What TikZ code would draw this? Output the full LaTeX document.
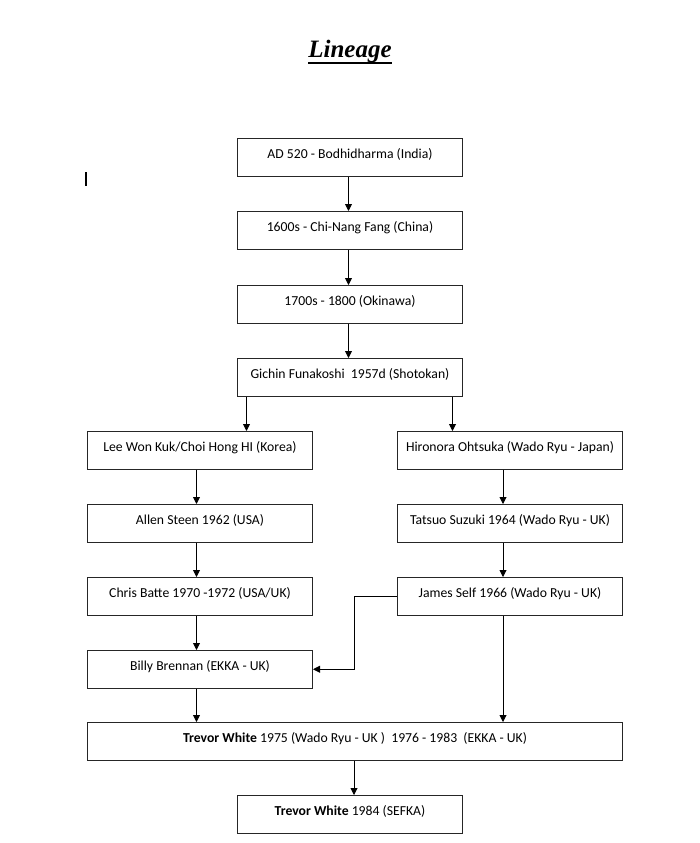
\documentclass[tikz,border=0pt]{standalone}
\usepackage{fontspec}
\setmainfont{Carlito}
\newfontfamily\titlefont{Liberation Serif}
\usetikzlibrary{arrows.meta}
\tikzset{
  box/.style={draw=black!85, line width=1pt, inner sep=0pt, anchor=north west,
    minimum height=37.5pt, text height=20pt, text depth=17.5pt,
    font=\fontsize{13.7}{16}\selectfont},
  narrow/.style={box, minimum width=225pt},
  wide/.style={box, minimum width=535pt},
  arr/.style={draw=black, line width=0.9pt, -{Triangle[width=7pt,length=7pt]}},
}
\begin{document}
\begin{tikzpicture}[x=1pt,y=-1pt]
\useasboundingbox (0,0) rectangle (700,843);
% title
\node[inner sep=0pt, anchor=base, font=\titlefont\bfseries\itshape\fontsize{25}{28}\selectfont] (title) at (350,58) {Lineage};
\draw[line width=1.8pt] ([yshift=-5pt]title.base west) -- ([yshift=-5pt]title.base east);
% cursor mark
\coordinate (c1) at (86,172);
\coordinate (c2) at (86,186);
\draw[line width=1.6pt] (c1) -- (c2);
% boxes
\node[narrow] (b1) at (237,138) {AD 520 - Bodhidharma (India)};
\node[narrow] (b2) at (237,211) {1600s - Chi-Nang Fang (China)};
\node[narrow] (b3) at (237,285) {1700s - 1800 (Okinawa)};
\node[narrow] (b4) at (237,358) {Gichin Funakoshi\ \ 1957d (Shotokan)};
\node[narrow] (b5) at (87,431) {Lee Won Kuk/Choi Hong HI (Korea)};
\node[narrow] (b6) at (397,431) {Hironora Ohtsuka (Wado Ryu - Japan)};
\node[narrow] (b7) at (87,504) {Allen Steen 1962 (USA)};
\node[narrow] (b8) at (397,504) {Tatsuo Suzuki 1964 (Wado Ryu - UK)};
\node[narrow] (b9) at (87,577) {Chris Batte 1970 -1972 (USA/UK)};
\node[narrow] (b10) at (397,577) {James Self 1966 (Wado Ryu - UK)};
\node[narrow] (b11) at (87,650) {Billy Brennan (EKKA - UK)};
\node[wide] (b12) at (87,722) {\textbf{Trevor White} 1975 (Wado Ryu - UK )\ \ 1976 - 1983\ \ (EKKA - UK)};
\node[narrow] (b13) at (237,795) {\textbf{Trevor White} 1984 (SEFKA)};
% arrows
\draw[arr] ([xshift=-1.5pt]b1.south) -- ([xshift=-1.5pt]b2.north);
\draw[arr] ([xshift=-1.5pt]b2.south) -- ([xshift=-1.5pt]b3.north);
\draw[arr] ([xshift=-1.5pt]b3.south) -- ([xshift=-1.5pt]b4.north);
\draw[arr] ([xshift=-103.5pt]b4.south) -- ([xshift=-103.5pt]b4.south |- b5.north);
\draw[arr] ([xshift=102.5pt]b4.south) -- ([xshift=102.5pt]b4.south |- b6.north);
\draw[arr] ([xshift=-3.5pt]b5.south) -- ([xshift=-3.5pt]b7.north);
\draw[arr] ([xshift=-3.5pt]b7.south) -- ([xshift=-3.5pt]b9.north);
\draw[arr] ([xshift=-3.5pt]b9.south) -- ([xshift=-3.5pt]b11.north);
\draw[arr] ([xshift=-7pt]b6.south) -- ([xshift=-7pt]b8.north);
\draw[arr] ([xshift=-7pt]b8.south) -- ([xshift=-7pt]b10.north);
\draw[arr] (b10.west) -- ++(-43,0) |- (b11.east);
\draw[arr] ([xshift=-3.5pt]b11.south) -- ([xshift=-3.5pt]b11.south |- b12.north);
\draw[arr] ([xshift=-7pt]b10.south) -- ([xshift=-7pt]b10.south |- b12.north);
\draw[arr] ([xshift=-1pt]b12.south) -- ([xshift=-1pt]b12.south |- b13.north);
\end{tikzpicture}
\end{document}
